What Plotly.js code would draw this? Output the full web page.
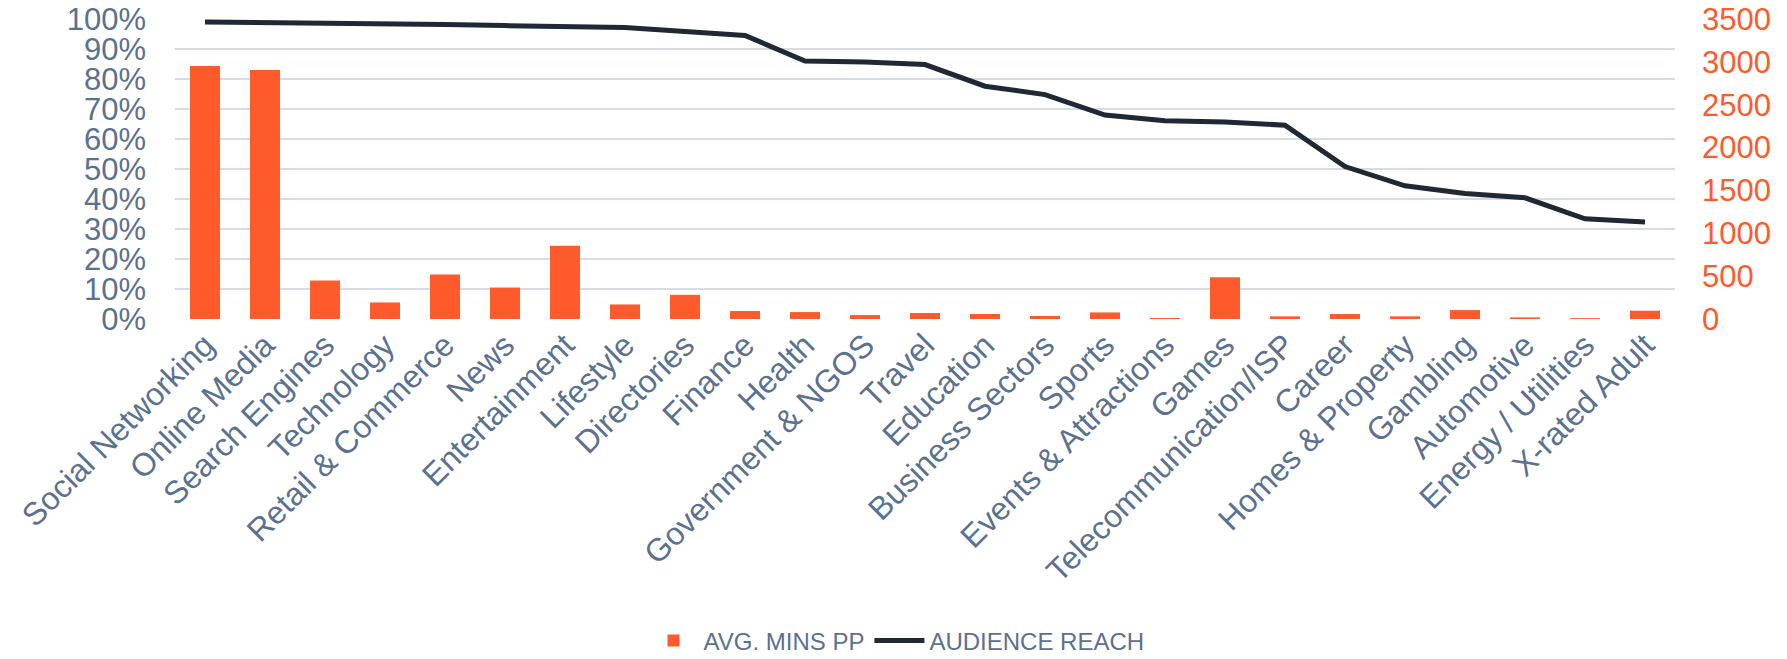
<!DOCTYPE html>
<html>
<head>
<meta charset="utf-8">
<script src="https://cdn.plot.ly/plotly-3.0.1.min.js"></script>
<style>
html,body{margin:0;padding:0;background:#fff;}
#chart{width:1787px;height:659px;}
</style>
</head>
<body>
<div id="chart"></div>
<script>
const categories = ["Social Networking","Online Media","Search Engines","Technology","Retail & Commerce","News","Entertainment","Lifestyle","Directories","Finance","Health","Government & NGOS","Travel","Education","Business Sectors","Sports","Events & Attractions","Games","Telecommunication/ISP","Career","Homes & Property","Gambling","Automotive","Energy / Utilities","X-rated Adult"];
const avgMinsPP = [2951,2904,449,193,518,367,855,170,282,93,81,46,70,58,35,77,12,487,31,58,31,104,19,10,97];
const audienceReach = [0.990,0.989,0.987,0.986,0.982,0.978,0.974,0.972,0.958,0.945,0.860,0.857,0.848,0.776,0.748,0.680,0.661,0.657,0.646,0.508,0.444,0.418,0.404,0.334,0.323];
const leftTicks = [0,0.1,0.2,0.3,0.4,0.5,0.6,0.7,0.8,0.9,1.0];
const rightTicks = [0,500,1000,1500,2000,2500,3000,3500];

const FONT = "Liberation Sans, Arial, sans-serif";
const GREY = "#5b7190";
const ORANGE = "#ff5a2c";
const DARK = "#1f2833";

const traces = [
  {
    type: "bar",
    name: "AVG. MINS PP",
    x: categories,
    y: avgMinsPP,
    yaxis: "y2",
    marker: {color: ORANGE},
    hoverinfo: "x+y"
  },
  {
    type: "scatter",
    mode: "lines",
    name: "AUDIENCE REACH",
    x: categories,
    y: audienceReach,
    yaxis: "y",
    line: {color: DARK, width: 5}
  }
];

const layout = {
  width: 1787,
  height: 659,
  margin: {l: 175, r: 112, t: 19, b: 340, autoexpand: false},
  paper_bgcolor: "#ffffff",
  plot_bgcolor: "#ffffff",
  font: {family: FONT, color: GREY, size: 30},
  bargap: 0.5,
  showlegend: true,
  legend: {
    orientation: "h",
    x: 0.481,
    xanchor: "center",
    y: -1.073,
    yanchor: "middle",
    itemwidth: 50,
    font: {family: FONT, size: 24, color: GREY},
    traceorder: "normal"
  },
  xaxis: {
    type: "category",
    tickangle: -45,
    tickfont: {family: FONT, size: 32, color: GREY},
    showgrid: false,
    showline: false,
    zeroline: false,
    ticks: ""
  },
  yaxis: {
    range: [0, 1],
    tickvals: leftTicks,
    tickformat: ".0%",
    tickfont: {family: FONT, size: 31, color: GREY},
    showgrid: true,
    gridcolor: "#d6dbe5",
    gridwidth: 2,
    zeroline: false,
    showline: false,
    ticks: "",
    ticklabelstandoff: 28,
    fixedrange: true
  },
  yaxis2: {
    range: [0, 3500],
    tickvals: rightTicks,
    overlaying: "y",
    side: "right",
    tickfont: {family: FONT, size: 31, color: ORANGE},
    showgrid: false,
    zeroline: false,
    showline: false,
    ticks: "",
    ticklabelstandoff: 26,
    fixedrange: true
  }
};

Plotly.newPlot("chart", traces, layout, {displayModeBar: false, staticPlot: true});
</script>
</body>
</html>
